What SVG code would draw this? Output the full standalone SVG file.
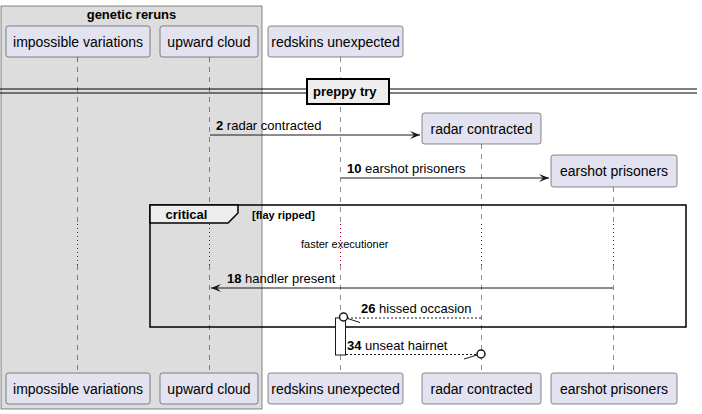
<svg xmlns="http://www.w3.org/2000/svg" width="702" height="414" viewBox="0 0 702 414">
<defs>
<style>
text{font-family:"Liberation Sans",Arial,sans-serif;fill:#000}
.pbox{fill:#E2E2F0;stroke:#181818;stroke-width:0.5}
.pname{font-size:14px;text-anchor:middle}
.life{stroke:#181818;stroke-width:0.5;stroke-dasharray:5,5;fill:none}
.delay{stroke:#A80036;stroke-width:1;stroke-dasharray:1,3;fill:none}
.msg{stroke:#181818;stroke-width:1;fill:none}
.dash{stroke-dasharray:2,2}
.mtxt{font-size:13px}
.num{font-weight:bold}
.bold13{font-size:13px;font-weight:bold}
</style>
<marker id="ah" markerUnits="userSpaceOnUse" markerWidth="12" markerHeight="10" refX="10" refY="4" orient="auto">
<path d="M0,0 L10,4 L0,8 L4,4 Z" fill="#181818"/>
</marker>
</defs>
<rect width="702" height="414" fill="#FFFFFF"/>

<g id="box-genetic-reruns">
<rect x="1" y="6" width="261" height="403" fill="#DDDDDD" stroke="#181818" stroke-width="0.5"/>
<text x="131.5" y="19" class="bold13" text-anchor="middle">genetic reruns</text>
</g>

<g id="lifelines">
<line class="life" x1="77.5" y1="57" x2="77.5" y2="223"/>
<line class="delay" x1="77.5" y1="224" x2="77.5" y2="265"/>
<line class="life" x1="77.5" y1="265" x2="77.5" y2="373"/>
<line class="life" x1="209.5" y1="57" x2="209.5" y2="223"/>
<line class="delay" x1="209.5" y1="224" x2="209.5" y2="265"/>
<line class="life" x1="209.5" y1="265" x2="209.5" y2="373"/>
<line class="life" x1="340.5" y1="57" x2="340.5" y2="223"/>
<line class="delay" x1="340.5" y1="224" x2="340.5" y2="265"/>
<line class="life" x1="340.5" y1="265" x2="340.5" y2="373"/>
<line class="life" x1="481.5" y1="144" x2="481.5" y2="223"/>
<line class="delay" x1="481.5" y1="224" x2="481.5" y2="265"/>
<line class="life" x1="481.5" y1="265" x2="481.5" y2="373"/>
<line class="life" x1="613.5" y1="187" x2="613.5" y2="223"/>
<line class="delay" x1="613.5" y1="224" x2="613.5" y2="265"/>
<line class="life" x1="613.5" y1="265" x2="613.5" y2="373"/>
</g>

<g id="impossible-variations">
<rect class="pbox" x="6" y="26" width="144" height="31" rx="2.5"/>
<text class="pname" x="78" y="46.5">impossible variations</text>
<rect class="pbox" x="6" y="373" width="144" height="31" rx="2.5"/>
<text class="pname" x="78" y="393.5">impossible variations</text>
</g>
<g id="upward-cloud">
<rect class="pbox" x="160" y="26" width="98" height="31" rx="2.5"/>
<text class="pname" x="209" y="46.5">upward cloud</text>
<rect class="pbox" x="160" y="373" width="98" height="31" rx="2.5"/>
<text class="pname" x="209" y="393.5">upward cloud</text>
</g>
<g id="redskins-unexpected">
<rect class="pbox" x="268" y="26" width="135" height="31" rx="2.5"/>
<text class="pname" x="335.5" y="46.5">redskins unexpected</text>
<rect class="pbox" x="268" y="373" width="135" height="31" rx="2.5"/>
<text class="pname" x="335.5" y="393.5">redskins unexpected</text>
</g>
<g id="radar-contracted">
<rect class="pbox" x="422" y="113" width="119" height="31" rx="2.5"/>
<text class="pname" x="481.5" y="133.5">radar contracted</text>
<rect class="pbox" x="422" y="373" width="119" height="31" rx="2.5"/>
<text class="pname" x="481.5" y="393.5">radar contracted</text>
</g>
<g id="earshot-prisoners">
<rect class="pbox" x="551" y="155" width="126" height="32" rx="2.5"/>
<text class="pname" x="614" y="176">earshot prisoners</text>
<rect class="pbox" x="551" y="373" width="126" height="31" rx="2.5"/>
<text class="pname" x="614" y="393.5">earshot prisoners</text>
</g>

<g id="divider-preppy-try">
<line x1="0" y1="89" x2="697" y2="89" stroke="#000" stroke-width="1"/>
<line x1="0" y1="93" x2="697" y2="93" stroke="#000" stroke-width="1"/>
<rect x="307" y="79" width="82" height="25" fill="#EEEEEE" stroke="#000" stroke-width="2"/>
<text x="313" y="96" class="bold13">preppy try</text>
</g>

<g id="fragment-critical">
<rect x="150" y="205" width="536" height="122" fill="none" stroke="#000" stroke-width="1.5"/>
<path d="M150,205 L238,205 L238,213 L228,223 L150,223 Z" fill="#EEEEEE" stroke="#000" stroke-width="1.5"/>
<text x="165.5" y="219" class="bold13">critical</text>
<text x="252" y="219" font-size="11" font-weight="bold">[flay ripped]</text>
</g>

<g id="delay-faster-executioner">
<text x="301" y="248" font-size="11">faster executioner</text>
</g>

<g id="activation-redskins">
<rect x="335.5" y="318" width="10" height="37" fill="#FFFFFF" stroke="#181818" stroke-width="1"/>
</g>

<g id="connectors">
<line class="msg" x1="210" y1="135" x2="420" y2="135" marker-end="url(#ah)"/>
<text class="mtxt" x="216" y="130"><tspan class="num">2</tspan> radar contracted</text>

<line class="msg" x1="341" y1="178" x2="549" y2="178" marker-end="url(#ah)"/>
<text class="mtxt" x="347" y="173"><tspan class="num">10</tspan> earshot prisoners</text>

<line class="msg" x1="613" y1="288" x2="211" y2="288" marker-end="url(#ah)"/>
<text class="mtxt" x="227" y="283"><tspan class="num">18</tspan> handler present</text>

<line class="msg dash" x1="481" y1="318" x2="348" y2="318"/>
<circle cx="343.5" cy="317" r="4" fill="#FFFFFF" stroke="#181818" stroke-width="1.5"/>
<line class="msg" x1="347.5" y1="318.5" x2="360" y2="322.5"/>
<text class="mtxt" x="361" y="313"><tspan class="num">26</tspan> hissed occasion</text>

<line class="msg dash" x1="346" y1="354.5" x2="477" y2="354.5"/>
<circle cx="481" cy="354" r="4" fill="#FFFFFF" stroke="#181818" stroke-width="1.5"/>
<line class="msg" x1="477" y1="355" x2="464" y2="359"/>
<text class="mtxt" x="347" y="350"><tspan class="num">34</tspan> unseat hairnet</text>
</g>
</svg>
